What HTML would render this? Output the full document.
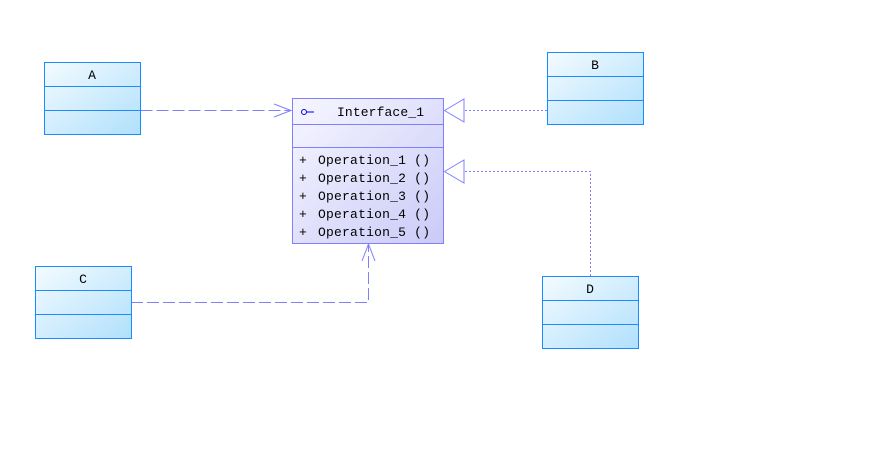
<!DOCTYPE html>
<html><head><style>
body{margin:0;background:#fff;width:872px;height:466px;overflow:hidden}
svg text{font-family:"Liberation Mono","Noto Sans CJK SC",monospace;font-size:13px}
</style></head><body>
<svg width="872" height="466" xmlns="http://www.w3.org/2000/svg">
<defs>
<linearGradient id="cg" x1="0" y1="0" x2="1" y2="1"><stop offset="0" stop-color="#f4fbff"/><stop offset="1" stop-color="#b0e0fc"/></linearGradient>
<linearGradient id="ig" x1="0" y1="0" x2="1" y2="1"><stop offset="0" stop-color="#f7f7ff"/><stop offset="1" stop-color="#cacaf8"/></linearGradient>
</defs>
<g stroke="#8080ff" fill="none" stroke-width="1">
<path d="M140.5 110.5H290" stroke-dasharray="12,4"/>
<path d="M274 104L291 110.5L274 117"/>
<path d="M131 302.5H368.5V245" stroke-dasharray="12,4"/>
<path d="M362 261L368.5 244L375 261"/>
<path d="M547 110.5H464" stroke-dasharray="2,2"/>
<path d="M444.5 110.5L464 99V122Z" fill="#fff"/>
<path d="M590.5 276V171.5H464" stroke-dasharray="2,2"/>
<path d="M444.5 171.5L464 160V183Z" fill="#fff"/>
</g>
<g stroke="#1a8cff" fill="url(#cg)">
<rect x="44.5" y="62.5" width="96" height="72"/><path d="M44.5 86.5h96M44.5 110.5h96"/>
<rect x="547.5" y="52.5" width="96" height="72"/><path d="M547.5 76.5h96M547.5 100.5h96"/>
<rect x="35.5" y="266.5" width="96" height="72"/><path d="M35.5 290.5h96M35.5 314.5h96"/>
<rect x="542.5" y="276.5" width="96" height="72"/><path d="M542.5 300.5h96M542.5 324.5h96"/>
</g>
<g fill="#000" text-anchor="middle">
<text x="92" y="79">A</text><text x="595" y="69">B</text><text x="83" y="283">C</text><text x="590" y="293">D</text>
</g>
<rect x="292.5" y="98.5" width="151" height="145" fill="url(#ig)" stroke="#8080ff"/>
<path d="M292.5 124.5h151M292.5 147.5h151" stroke="#8080ff"/>
<circle cx="304" cy="112" r="2.5" fill="none" stroke="#0000ff"/><path d="M306.5 112H314" stroke="#0000ff"/>
<text x="337" y="116" fill="#000" textLength="87">Interface_1</text>
<g fill="#000">
<text x="299" y="164">+</text><text x="318" y="164" textLength="112">Operation_1 ()</text>
<text x="299" y="182">+</text><text x="318" y="182" textLength="112">Operation_2 ()</text>
<text x="299" y="200">+</text><text x="318" y="200" textLength="112">Operation_3 ()</text>
<text x="299" y="218">+</text><text x="318" y="218" textLength="112">Operation_4 ()</text>
<text x="299" y="236">+</text><text x="318" y="236" textLength="112">Operation_5 ()</text>
</g>
</svg>
</body></html>
